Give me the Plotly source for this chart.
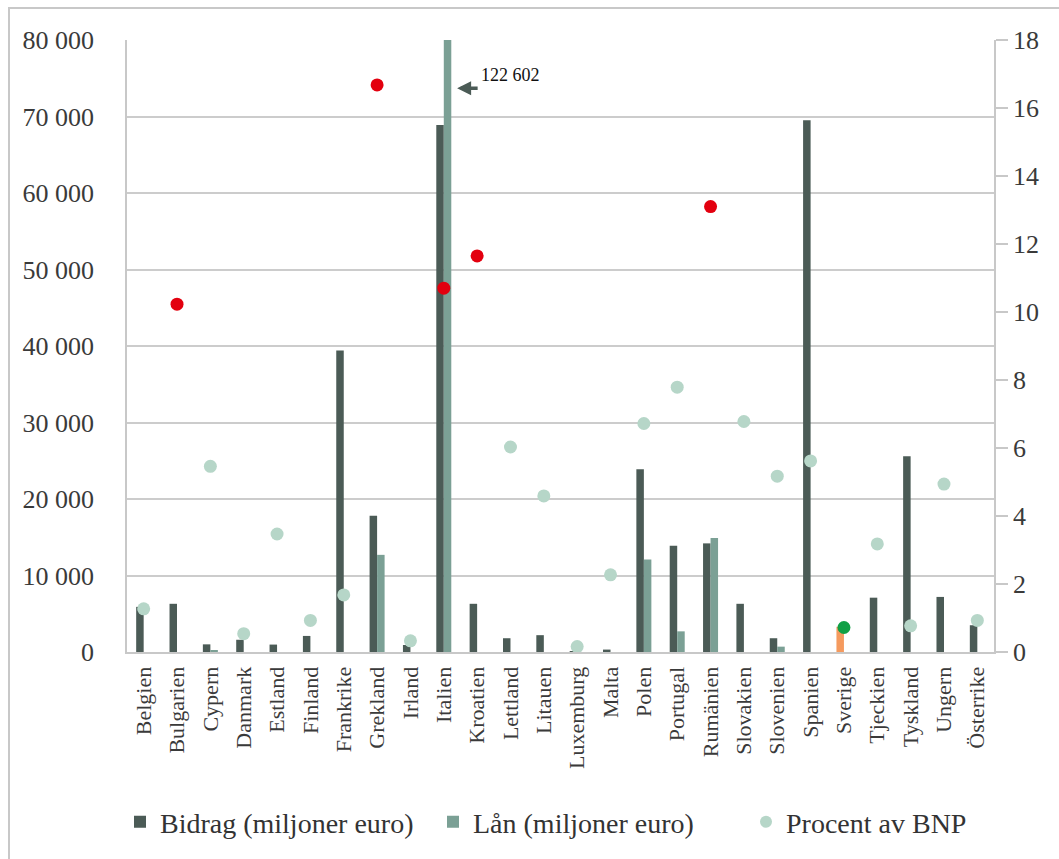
import plotly.graph_objects as go

countries = ["Belgien", "Bulgarien", "Cypern", "Danmark", "Estland", "Finland", "Frankrike",
             "Grekland", "Irland", "Italien", "Kroatien", "Lettland", "Litauen", "Luxemburg",
             "Malta", "Polen", "Portugal", "Rumänien", "Slovakien", "Slovenien", "Spanien",
             "Sverige", "Tjeckien", "Tyskland", "Ungern", "Österrike"]

bidrag = [5900, 6300, 1000, 1600, 970, 2100, 39400, 17800, 915, 68900, 6300, 1800, 2200, 93,
          316, 23900, 13900, 14200, 6300, 1800, 69500, 3300, 7100, 25600, 7200, 3500]

lan = [0, 0, 200, 0, 0, 0, 0, 12700, 0, 122602, 0, 0, 0, 0,
       0, 12100, 2700, 14900, 0, 700, 0, 0, 0, 0, 0, 0]

procent = [1.27, 10.23, 5.46, 0.54, 3.47, 0.93, 1.68, 16.68, 0.33, 10.7, 11.65, 6.03, 4.59, 0.16,
           2.27, 6.72, 7.79, 13.1, 6.78, 5.17, 5.62, 0.72, 3.18, 0.77, 4.94, 0.93]

highlight_red = ["Bulgarien", "Grekland", "Italien", "Kroatien", "Rumänien"]
highlight_green = ["Sverige"]

C_BIDRAG = "#4b5b56"
C_LAN = "#7ba095"
C_ORANGE = "#f59a5e"
C_MINT = "#b6d6c8"
C_RED = "#e3000f"
C_GREEN = "#11a046"
FONT = "Liberation Serif"

bidrag_colors = [C_ORANGE if c in highlight_green else C_BIDRAG for c in countries]
dot_colors = [C_RED if c in highlight_red else (C_GREEN if c in highlight_green else C_MINT)
              for c in countries]

fig = go.Figure()
fig.add_trace(go.Bar(x=countries, y=bidrag, name="Bidrag (miljoner euro)",
                     marker=dict(color=bidrag_colors, line=dict(width=0))))
fig.add_trace(go.Bar(x=countries, y=lan, name="Lån (miljoner euro)",
                     marker=dict(color=C_LAN, line=dict(width=0))))
fig.add_trace(go.Scatter(x=countries, y=procent, name="Procent av BNP", mode="markers",
                         yaxis="y2", marker=dict(color=dot_colors, size=13)))

ita = countries.index("Italien")
lan_ita = lan[ita]

fig.add_annotation(x=ita + 0.40, y=73700, xref="x", yref="y", text="", showarrow=True,
                   ax=22, ay=0, arrowhead=2, arrowsize=0.8, arrowwidth=3.5,
                   arrowcolor=C_BIDRAG)
fig.add_annotation(x=ita + 1.05, y=75400, xref="x", yref="y",
                   text=f"{lan_ita:,}".replace(",", " "), showarrow=False,
                   xanchor="left", yanchor="middle",
                   font=dict(family=FONT, size=18, color="#111111"))

# outer frame
px2x = lambda p: (p - 127) / 867
px2y = lambda p: (654 - p) / 614
fig.add_shape(type="rect", xref="paper", yref="paper",
              x0=px2x(9), x1=px2x(1070), y0=px2y(870), y1=px2y(8),
              line=dict(color="#c8c8c8", width=2), layer="below")

fig.update_layout(
    width=1059, height=859,
    margin=dict(l=127, r=65, t=40, b=205),
    paper_bgcolor="white", plot_bgcolor="white",
    barmode="group", bargap=0.55, bargroupgap=0,
    separators=", ",
    font=dict(family=FONT, color="#3a3a3a"),
    showlegend=True,
    legend=dict(orientation="h", x=-0.0001, xanchor="left", y=-0.278, yanchor="middle",
                font=dict(family=FONT, size=28, color="#333333"),
                itemsizing="constant", entrywidth=268, entrywidthmode="pixels"),
    xaxis=dict(range=[-0.5, len(countries) - 0.5],
               tickangle=-90, tickfont=dict(size=22, color="#3a3a3a"),
               ticklabelstandoff=4,
               showline=True, linecolor="#c8c8c8", linewidth=2,
               ticks="", showgrid=False),
    yaxis=dict(range=[0, 80000], dtick=10000, tickformat=",d",
               tickfont=dict(size=26, color="#3a3a3a"),
               showgrid=True, gridcolor="#cccccc", gridwidth=1.5,
               showline=True, linecolor="#c8c8c8", linewidth=1.5,
               ticks="", ticklabelstandoff=26, zeroline=False),
    yaxis2=dict(range=[0, 18], dtick=2, overlaying="y", side="right",
                tickfont=dict(size=26, color="#3a3a3a"),
                showgrid=False, zeroline=False,
                showline=True, linecolor="#c8c8c8", linewidth=1.5,
                ticks="outside", ticklen=12, tickcolor="#c8c8c8", tickwidth=1.5),
)

fig.write_html("out.html")
